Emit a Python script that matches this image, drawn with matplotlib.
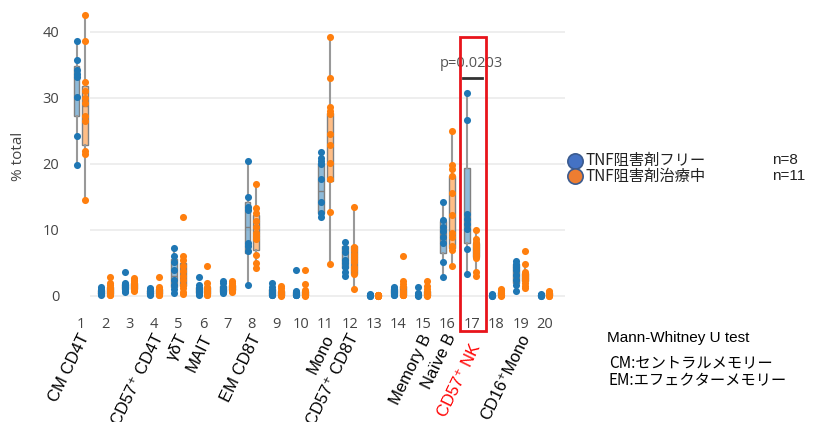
#!/usr/bin/env python3
"""Box + strip chart: % total per cell population, TNF inhibitor free vs treated."""

import matplotlib
matplotlib.use("Agg")
import matplotlib.pyplot as plt
from matplotlib.lines import Line2D
from matplotlib.patches import Rectangle
import numpy as np

# ── data ────────────────────────────────────────────────
CATEGORIES = list(range(1, 21))

# TNF阻害剤フリー (n=8)
FREE = [
    [38.6, 35.8, 34.2, 33.6, 33.2, 30.1, 24.2, 19.9],
    [1.3, 1.0, 0.9, 0.7, 0.5, 0.4, 0.3, 0.2],
    [3.6, 2.0, 1.8, 1.6, 1.3, 1.1, 0.8, 0.6],
    [1.2, 1.0, 0.8, 0.7, 0.5, 0.4, 0.3, 0.2],
    [7.3, 6.0, 5.1, 4.0, 2.4, 1.7, 1.1, 0.5],
    [2.9, 1.6, 1.2, 1.0, 0.8, 0.6, 0.3, 0.2],
    [2.3, 1.9, 1.4, 1.1, 0.9, 0.7, 0.6, 0.5],
    [20.5, 15.0, 13.5, 13.0, 8.0, 7.5, 6.8, 1.6],
    [2.0, 1.4, 0.9, 0.5, 0.3, 0.2, 0.1, 0.1],
    [4.0, 0.8, 0.6, 0.3, 0.2, 0.1, 0.1, 0.1],
    [21.8, 20.9, 20.4, 20.0, 17.7, 14.3, 12.5, 12.0],
    [8.2, 7.3, 6.6, 5.5, 5.0, 4.4, 3.7, 3.0],
    [0.3, 0.2, 0.2, 0.1, 0.1, 0.1, 0.0, 0.0],
    [1.4, 1.2, 1.0, 0.8, 0.6, 0.3, 0.2, 0.1],
    [1.4, 0.5, 0.3, 0.2, 0.2, 0.1, 0.1, 0.0],
    [14.2, 11.5, 10.5, 9.8, 9.0, 8.0, 5.1, 2.9],
    [30.7, 26.6, 12.4, 11.7, 10.9, 10.2, 7.1, 3.4],
    [0.3, 0.2, 0.2, 0.1, 0.1, 0.1, 0.0, 0.0],
    [5.3, 4.9, 4.4, 3.9, 3.2, 2.4, 1.7, 0.7],
    [0.3, 0.2, 0.2, 0.1, 0.1, 0.1, 0.0, 0.0],
]

# TNF阻害剤治療中 (n=11)
TREATED = [
    [42.6, 38.7, 32.4, 31.0, 30.0, 29.2, 27.3, 26.5, 21.9, 21.5, 14.5],
    [2.9, 2.0, 1.6, 1.3, 1.0, 0.8, 0.6, 0.4, 0.3, 0.2, 0.1],
    [2.7, 2.4, 2.2, 1.9, 1.7, 1.5, 1.3, 1.2, 1.0, 0.9, 0.8],
    [2.9, 1.3, 1.1, 0.9, 0.7, 0.6, 0.5, 0.4, 0.3, 0.2, 0.1],
    [11.9, 6.0, 5.5, 4.5, 3.8, 3.1, 2.4, 1.6, 1.2, 0.6, 0.3],
    [4.6, 1.9, 1.4, 1.2, 1.0, 0.8, 0.6, 0.4, 0.3, 0.2, 0.1],
    [2.2, 1.9, 1.7, 1.5, 1.3, 1.1, 1.0, 0.9, 0.8, 0.7, 0.6],
    [17.0, 13.3, 12.6, 11.3, 10.5, 9.5, 9.1, 8.7, 6.2, 5.0, 4.2],
    [1.5, 1.2, 0.8, 0.6, 0.4, 0.3, 0.2, 0.2, 0.1, 0.1, 0.0],
    [4.0, 1.8, 0.9, 0.6, 0.3, 0.2, 0.2, 0.1, 0.1, 0.1, 0.0],
    [39.2, 33.1, 28.6, 28.1, 27.5, 24.6, 22.9, 20.1, 17.8, 12.8, 4.8],
    [13.5, 7.4, 6.9, 6.4, 5.9, 5.4, 5.1, 4.4, 3.9, 3.4, 1.0],
    [0.2, 0.2, 0.1, 0.1, 0.1, 0.1, 0.0, 0.0, 0.0, 0.0, 0.0],
    [6.0, 2.3, 1.8, 1.3, 0.8, 0.6, 0.3, 0.2, 0.2, 0.1, 0.1],
    [2.2, 1.5, 1.0, 0.6, 0.3, 0.2, 0.2, 0.1, 0.1, 0.1, 0.0],
    [25.0, 19.8, 19.3, 18.2, 15.6, 12.3, 9.5, 8.9, 7.5, 7.0, 4.6],
    [10.0, 8.6, 8.2, 7.8, 7.4, 7.0, 6.6, 6.2, 5.8, 3.6, 3.1],
    [1.1, 0.9, 0.7, 0.5, 0.4, 0.3, 0.2, 0.2, 0.1, 0.1, 0.0],
    [6.8, 4.8, 3.7, 3.4, 3.2, 3.0, 2.7, 2.4, 2.0, 1.5, 1.2],
    [0.8, 0.6, 0.5, 0.4, 0.3, 0.2, 0.2, 0.1, 0.1, 0.0, 0.0],
]

# box quartiles
FREE_Q1 = [27.2, 0.3, 1.0, 0.3, 1.4, 0.5, 0.65, 6.5, 0.15, 0.1, 12.5, 4.2, 0.05, 0.25, 0.1, 6.5, 8.0, 0.05, 1.9, 0.05]
FREE_MED = [30.5, 0.6, 1.45, 0.6, 3.0, 0.9, 1.0, 10.5, 0.4, 0.25, 15.9, 5.2, 0.1, 0.7, 0.2, 9.4, 11.3, 0.1, 3.5, 0.1]
FREE_Q3 = [34.8, 0.9, 1.85, 0.85, 5.6, 1.3, 1.5, 14.2, 1.0, 0.65, 20.2, 7.5, 0.2, 1.05, 0.35, 11.3, 19.4, 0.2, 4.8, 0.2]
TREATED_Q1 = [22.9, 0.3, 1.1, 0.3, 1.5, 0.35, 0.85, 6.9, 0.1, 0.1, 17.4, 3.4, 0.0, 0.2, 0.1, 7.2, 5.9, 0.15, 2.2, 0.1]
TREATED_MED = [28.8, 0.8, 1.5, 0.6, 3.1, 0.8, 1.1, 9.5, 0.3, 0.2, 24.6, 5.4, 0.1, 0.6, 0.2, 12.3, 7.0, 0.3, 3.0, 0.2]
TREATED_Q3 = [31.8, 1.4, 2.0, 1.0, 5.0, 1.3, 1.6, 12.2, 0.7, 0.75, 27.7, 7.6, 0.15, 1.55, 0.8, 18.2, 8.1, 0.6, 3.55, 0.45]

LABELS = {
    1: "CM CD4T", 4: "CD57⁺ CD4T", 5: "γδT", 6: "MAIT", 8: "EM CD8T",
    11: "Mono", 12: "CD57⁺ CD8T", 15: "Memory B", 16: "Naïve B",
    17: "CD57⁺ NK", 19: "CD16⁺Mono",
}
HIGHLIGHT = 17
P_TEXT = "p=0.0203"
GROUP_NAMES = ["TNF阻害剤フリー", "TNF阻害剤治療中"]
GROUP_N = ["n=8", "n=11"]

BLUE = "#1f77b4"
ORANGE = "#ff7f0e"
GREY = "#444444"
CJK = ["Noto Sans CJK JP", "DejaVu Sans"]
LATIN = ["Liberation Sans", "DejaVu Sans"]
OFFSET = 0.18

W, H = 817, 422


def fx(px):
    return px / W


def fy(py):
    return 1 - py / H


def box_stats(values, q1s, meds, q3s):
    stats = []
    for v, q1, med, q3 in zip(values, q1s, meds, q3s):
        v = np.asarray(v)
        iqr = q3 - q1
        lo = v[v >= q1 - 1.5 * iqr].min()
        hi = v[v <= q3 + 1.5 * iqr].max()
        stats.append(dict(q1=q1, med=med, q3=q3, whislo=min(lo, q1), whishi=max(hi, q3), fliers=[]))
    return stats


fig = plt.figure(figsize=(W / 100, H / 100), dpi=100)
ax = fig.add_axes([fx(66.3), fy(305.9), 500.7 / W, 300.3 / H])

# gridlines
ax.hlines([0, 10, 20, 30, 40], 1.37, 20.83, color="#ebebeb", lw=1.2, zorder=0)

x = np.array(CATEGORIES, dtype=float)
for vals, q1, med, q3, col, dx in [
    (FREE, FREE_Q1, FREE_MED, FREE_Q3, BLUE, -OFFSET),
    (TREATED, TREATED_Q1, TREATED_MED, TREATED_Q3, ORANGE, OFFSET),
]:
    ax.bxp(box_stats(vals, q1, med, q3), positions=x + dx, widths=0.24,
           patch_artist=True, showfliers=False, showcaps=False, manage_ticks=False,
           boxprops=dict(facecolor=matplotlib.colors.to_rgba(col, 0.5), edgecolor="#808080", lw=1),
           whiskerprops=dict(color="#999999", lw=1.5),
           medianprops=dict(color="#808080", lw=1), zorder=2)
    for xi, v in zip(x + dx, vals):
        ax.scatter(np.full(len(v), xi), v, s=26, color=col, lw=0, zorder=3)

ax.set_xlim(0.4, 20.9)
ax.set_ylim(-1.5, 44)
for s in ax.spines.values():
    s.set_visible(False)
ax.set_xticks(CATEGORIES, [str(c) for c in CATEGORIES])
ax.set_yticks([0, 10, 20, 30, 40])
ax.tick_params(length=0, labelcolor=GREY, labelsize=10.5)
ax.tick_params(axis="x", pad=8)
ax.tick_params(axis="y", pad=5)
for lab in ax.get_xticklabels() + ax.get_yticklabels():
    lab.set_fontfamily("Open Sans")

fig.text(fx(18), fy(156), "% total", rotation=90, ha="center", va="center",
         color=GREY, fontsize=11, family="Open Sans")

# rotated category names under the tick numbers (the red one sits below the box)
for cat, name in LABELS.items():
    hl = cat == HIGHLIGHT
    ax.text(cat + 0.2, -7.4 if hl else -5.9, name, rotation=64, rotation_mode="anchor",
            ha="right", va="center", fontsize=12, family=LATIN,
            color="red" if hl else "black", clip_on=False)

# highlight box and p-value
ax.add_patch(Rectangle((16.52, -5.3), 1.06, 44.5, fill=False, ec="#e8141b",
                       lw=2, clip_on=False, zorder=4))
ax.plot([16.65, 17.42], [33.0, 33.0], color="#333333", lw=2, zorder=4)
ax.text(17.0, 35.3, P_TEXT, ha="center", va="center", color="#555555",
        fontsize=10.5, family="Open Sans")

# legend: markers plus one two-line text block per column
for i, fc in enumerate(["#4472c4", "#ed7d31"]):
    fig.add_artist(Line2D([fx(575)], [fy(160.7 + 15 * i)], marker="o", ms=11, mfc=fc,
                          mec="#3b5b8f", mew=1.2, transform=fig.transFigure))
fig.text(fx(586), fy(168.2), "\n".join(GROUP_NAMES), ha="left", va="center",
         fontsize=11, family=CJK, color="#222222", linespacing=0.95)
fig.text(fx(772), fy(168.2), "\n".join(GROUP_N), ha="left", va="center",
         fontsize=11, family=LATIN, color="#222222", linespacing=1.2)

fig.text(fx(607), fy(338), "Mann-Whitney U test", ha="left", va="center", fontsize=11, family=LATIN)
fig.text(fx(609), fy(372), "CM:セントラルメモリー\nEM:エフェクターメモリー", ha="left", va="center",
         fontsize=11, family=CJK, linespacing=1.1)

fig.savefig("out.png", dpi=100, facecolor="white")
